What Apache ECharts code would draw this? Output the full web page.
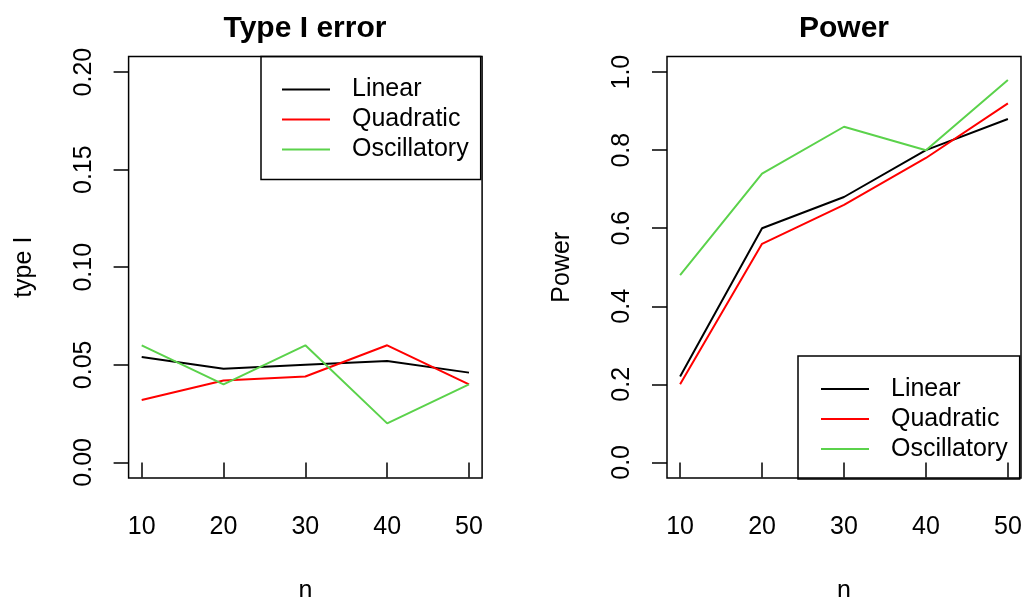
<!DOCTYPE html>
<html>
<head>
<meta charset="utf-8">
<script src="https://cdn.jsdelivr.net/npm/echarts@6/dist/echarts.min.js"></script>
<style>html,body{margin:0;padding:0;background:#fff}#c{width:1023px;height:597px}</style>
</head>
<body>
<div id="c"></div>
<script>
const nValues = [10, 20, 30, 40, 50];
const seriesNames = ['Linear', 'Quadratic', 'Oscillatory'];
const typeILinear = [0.054, 0.048, 0.050, 0.052, 0.046];
const typeIQuadratic = [0.032, 0.042, 0.044, 0.060, 0.040];
const typeIOscillatory = [0.060, 0.040, 0.060, 0.020, 0.040];
const powerLinear = [0.22, 0.60, 0.68, 0.80, 0.88];
const powerQuadratic = [0.20, 0.56, 0.66, 0.78, 0.92];
const powerOscillatory = [0.48, 0.74, 0.86, 0.80, 0.98];
const typeITicks = [0, 0.05, 0.10, 0.15, 0.20];
const powerTicks = [0, 0.2, 0.4, 0.6, 0.8, 1.0];

const FONT = "'Liberation Sans', Arial, Helvetica, sans-serif";
const colors = ['#000000', '#FF0000', '#5BD24B'];
const pair = (ys) => nValues.map((x, i) => [x, ys[i]]);

function xAxis(gridIndex) {
  return {
    gridIndex, type: 'value', min: 8.4, max: 51.6,
    axisLine: { show: false },
    splitLine: { show: false },
    axisTick: { show: true, customValues: nValues, length: 15, lineStyle: { color: '#000', width: 1.5 } },
    axisLabel: { customValues: nValues, fontSize: 25, color: '#000', fontFamily: FONT, margin: 37 },
    name: 'n', nameLocation: 'middle', nameGap: 101,
    nameTextStyle: { fontSize: 25, color: '#000', fontFamily: FONT }
  };
}
function yAxis(gridIndex, min, max, ticks, digits, name) {
  return {
    gridIndex, type: 'value', min, max,
    axisLine: { show: false },
    splitLine: { show: false },
    axisTick: { show: true, customValues: ticks, length: 15, lineStyle: { color: '#000', width: 1.5 } },
    axisLabel: { customValues: ticks, rotate: 90, fontSize: 25, color: '#000', fontFamily: FONT, margin: 32,
      formatter: (v) => Number(v).toFixed(digits) },
    name, nameLocation: 'middle', nameGap: 92, nameRotate: 90,
    nameTextStyle: { fontSize: 25, color: '#000', fontFamily: FONT }
  };
}
function line(name, data, idx) {
  return {
    name, type: 'line', xAxisIndex: idx, yAxisIndex: idx, data,
    symbol: 'none', silent: true, animation: false,
    lineStyle: { width: 2, color: colors[seriesNames.indexOf(name)] },
    itemStyle: { color: colors[seriesNames.indexOf(name)] }
  };
}
function legend(left, top, padding) {
  return {
    left, top, orient: 'vertical', data: seriesNames,
    icon: 'rect', itemWidth: 48, itemHeight: 2, itemGap: 0,
    padding, borderColor: '#000', borderWidth: 1.5,
    selectedMode: false,
    textStyle: { fontSize: 25, color: '#000', fontFamily: FONT, lineHeight: 30, padding: [0, 0, 0, 17] }
  };
}

const chart = echarts.init(document.getElementById('c'));
chart.setOption({
  animation: false,
  backgroundColor: '#fff',
  title: [
    { text: 'Type I error', left: 305, top: 14, textAlign: 'center', padding: 0,
      textStyle: { fontSize: 30, fontWeight: 'bold', color: '#000', fontFamily: FONT } },
    { text: 'Power', left: 844, top: 14, textAlign: 'center', padding: 0,
      textStyle: { fontSize: 30, fontWeight: 'bold', color: '#000', fontFamily: FONT } }
  ],
  grid: [
    { left: 128.6, top: 56.5, width: 353.5, height: 421.5, show: true, borderColor: '#000', borderWidth: 1.5,
      backgroundColor: 'transparent', containLabel: false, outerBoundsMode: 'none' },
    { left: 667, top: 56.5, width: 354, height: 421.5, show: true, borderColor: '#000', borderWidth: 1.5,
      backgroundColor: 'transparent', containLabel: false, outerBoundsMode: 'none' }
  ],
  xAxis: [xAxis(0), xAxis(1)],
  yAxis: [
    yAxis(0, -0.008, 0.208, typeITicks, 2, 'type I'),
    yAxis(1, -0.04, 1.04, powerTicks, 1, 'Power')
  ],
  legend: [
    legend(261, 56.5, [18, 12, 15, 21]),
    legend(798, 356, [18, 12, 15, 23])
  ],
  series: [
    line('Linear', pair(typeILinear), 0),
    line('Quadratic', pair(typeIQuadratic), 0),
    line('Oscillatory', pair(typeIOscillatory), 0),
    line('Linear', pair(powerLinear), 1),
    line('Quadratic', pair(powerQuadratic), 1),
    line('Oscillatory', pair(powerOscillatory), 1)
  ]
});
</script>
</body>
</html>
